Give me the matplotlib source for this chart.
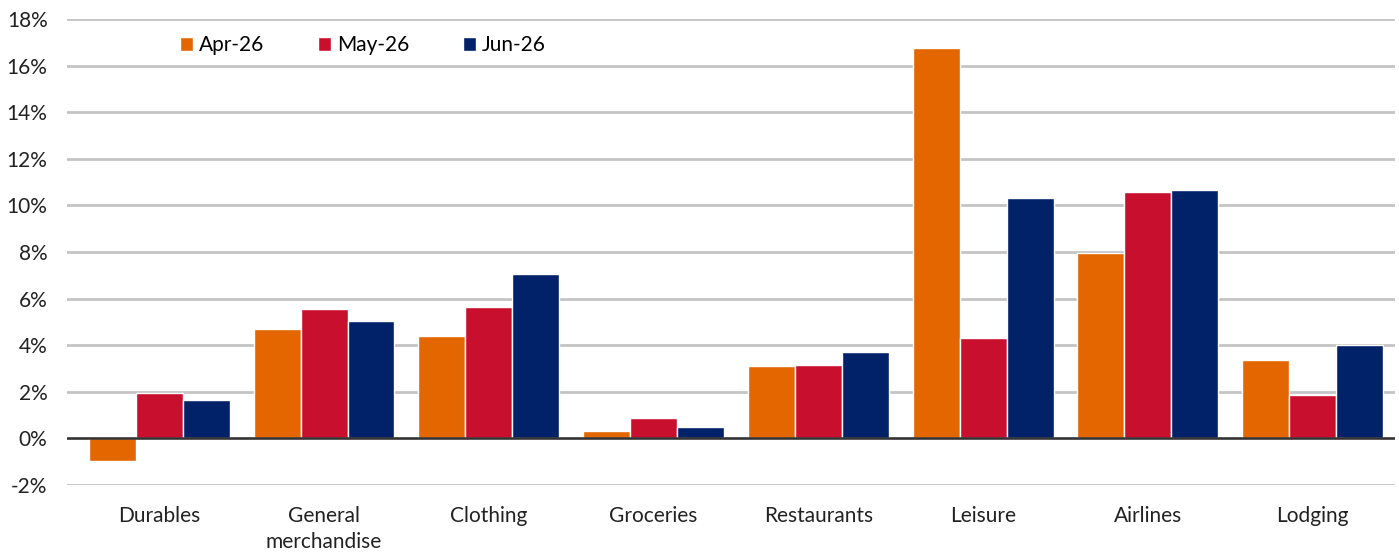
import matplotlib.pyplot as plt
import numpy as np

plt.rcParams['font.family'] = ['Lato', 'DejaVu Sans']

# Year-over-year growth by spending category (%)
categories = ['Durables', 'General\nmerchandise', 'Clothing', 'Groceries',
              'Restaurants', 'Leisure', 'Airlines', 'Lodging']
months = ['Apr-26', 'May-26', 'Jun-26']
apr_26 = [-0.95, 4.68, 4.38, 0.30, 3.09, 16.74, 7.94, 3.35]
may_26 = [1.93, 5.54, 5.62, 0.86, 3.13, 4.33, 10.56, 1.85]
jun_26 = [1.63, 5.06, 7.04, 0.47, 3.69, 10.30, 10.64, 4.03]

colors = ['#E36600', '#C8102E', '#012169']

fig = plt.figure(figsize=(13.99, 5.54), dpi=100)
ax = fig.add_axes([67 / 1399, 1 - 485 / 554, (1395 - 67) / 1399, (485 - 19) / 554])

x = np.arange(len(categories))
width = 0.285
for i, (vals, label) in enumerate(zip([apr_26, may_26, jun_26], months)):
    ax.bar(x + (i - 1) * width, vals, width, color=colors[i], label=label,
           edgecolor='white', linewidth=1, zorder=3)

ax.set_ylim(-2, 18)
ax.set_xlim(-0.56, 7.5)
ax.set_yticks(np.arange(-2, 19, 2))
ax.set_yticklabels([f'{v}%' for v in range(-2, 19, 2)])
ax.set_xticks(x)
ax.set_xticklabels(categories)

ax.grid(axis='y', color='#c4c4c4', linewidth=2, zorder=0)
ax.axhline(0, color='#333333', linewidth=1.8, zorder=4)
for s in ax.spines.values():
    s.set_visible(False)
ax.tick_params(axis='both', length=0, labelsize=15, colors='#222222')
ax.tick_params(axis='y', pad=14)
ax.tick_params(axis='x', pad=15)
for lbl in ax.get_xticklabels():
    lbl.set_linespacing(1.4)
    lbl.set_verticalalignment('top')

ax.legend(loc='upper left', bbox_to_anchor=(0.071, 1.005), ncol=3, frameon=False,
          fontsize=15, handlelength=0.6, handleheight=0.6, handletextpad=0.3,
          columnspacing=2.6)

plt.savefig('out.png', dpi=100)
